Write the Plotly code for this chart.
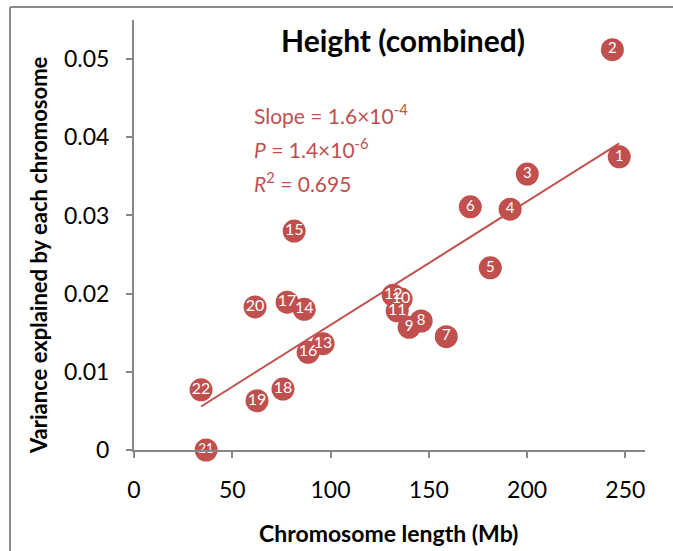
import numpy as np
import plotly.graph_objects as go

# ---- data ----
chromosomes = [str(i) for i in range(1, 23)]
length_mb = [246.9, 243.4, 200.1, 191.4, 181.3, 171.1, 158.9, 146.1, 140.0, 135.9, 133.9,
             131.9, 96.2, 86.6, 81.5, 88.6, 77.9, 75.8, 62.6, 61.6, 36.7, 34.1]
variance = [0.0375, 0.0512, 0.0353, 0.0308, 0.0233, 0.0311, 0.0145, 0.0165, 0.0157, 0.0193,
            0.0178, 0.0198, 0.0136, 0.0180, 0.0280, 0.0125, 0.0189, 0.0078, 0.0063, 0.0183,
            0.0000, 0.0077]
x_ticks = [0, 50, 100, 150, 200, 250]
y_ticks = [0, 0.01, 0.02, 0.03, 0.04, 0.05]
y_tick_text = ["0", "0.01", "0.02", "0.03", "0.04", "0.05"]
stats_lines = ["Slope = 1.6×10<sup>-4</sup>", "<i>P</i> = 1.4×10<sup>-6</sup>", "<i>R</i><sup>2</sup> = 0.695"]

RED = "#C0504D"
AX = "#868686"
FONT = "Lato, 'Open Sans', sans-serif"

# layout geometry (pixels)
W, H = 673, 551
L, R, T, B = 134, 28, 20, 101
pw, ph = W - L - R, H - T - B

xs = np.array(length_mb)
ys = np.array(variance)
slope, intercept = np.polyfit(xs, ys, 1)
fit_x = np.array([xs.min(), xs.max()])
fit_y = slope * fit_x + intercept

label_sizes = [13 if c == "21" else (16 if len(c) > 1 else 15) for c in chromosomes]

fig = go.Figure()
fig.add_trace(go.Scatter(
    x=length_mb, y=variance, mode="markers",
    marker=dict(size=23, color=RED, line=dict(width=0)),
    hoverinfo="skip", showlegend=False, cliponaxis=False,
))
fig.add_trace(go.Scatter(
    x=fit_x, y=fit_y, mode="lines",
    line=dict(color=RED, width=2), hoverinfo="skip", showlegend=False,
))
fig.add_trace(go.Scatter(
    x=length_mb, y=variance, mode="text", text=chromosomes,
    textposition="middle center",
    textfont=dict(color="white", size=label_sizes, family=FONT),
    hoverinfo="skip", showlegend=False, cliponaxis=False,
))

def px2paper_x(px):
    return (px - L) / pw

def px2paper_y(py):
    return (H - B - py) / ph

annotations = []
for txt, py in zip(stats_lines, [114, 148, 182]):
    annotations.append(dict(
        text=txt, xref="paper", yref="paper", x=px2paper_x(252), y=px2paper_y(py),
        xanchor="left", yanchor="middle", showarrow=False,
        font=dict(color=RED, size=21, family=FONT),
    ))
annotations.append(dict(
    text="<b>Height (combined)</b>", xref="paper", yref="paper",
    x=px2paper_x(403), y=px2paper_y(40), xanchor="center", yanchor="middle",
    showarrow=False, font=dict(color="black", size=30, family=FONT),
))
annotations.append(dict(
    text="<b>Chromosome length (Mb)</b>", xref="paper", yref="paper",
    x=px2paper_x(388), y=px2paper_y(533), xanchor="center", yanchor="middle",
    showarrow=False, font=dict(color="black", size=23, family=FONT),
))
annotations.append(dict(
    text="<b>Variance explained by each chromosome</b>", xref="paper", yref="paper",
    x=px2paper_x(38), y=px2paper_y(255), xanchor="center", yanchor="middle",
    textangle=-90, showarrow=False, font=dict(color="black", size=22, family=FONT),
))

border = dict(color="#8c8c8c", width=2)
fig.update_layout(
    width=W, height=H,
    margin=dict(l=L, r=R, t=T, b=B, pad=0, autoexpand=False),
    paper_bgcolor="white", plot_bgcolor="white",
    font=dict(family=FONT, color="black"),
    annotations=annotations,
    shapes=[
        dict(type="line", xref="paper", yref="paper",
             x0=px2paper_x(10), x1=px2paper_x(673), y0=px2paper_y(7), y1=px2paper_y(7),
             line=border, layer="above"),
        dict(type="line", xref="paper", yref="paper",
             x0=px2paper_x(10), x1=px2paper_x(10), y0=px2paper_y(7), y1=px2paper_y(551),
             line=border, layer="above"),
    ],
    xaxis=dict(
        range=[0, 260], tickvals=x_ticks, ticks="outside", ticklen=6, tickwidth=2,
        tickcolor=AX, showline=True, linecolor=AX, linewidth=2, showgrid=False,
        zeroline=False, tickfont=dict(size=23, family=FONT, color="black"),
        ticklabelstandoff=12, automargin=False,
    ),
    yaxis=dict(
        range=[0, 0.055], tickvals=y_ticks, ticktext=y_tick_text, ticks="outside",
        ticklen=6, tickwidth=2, tickcolor=AX, showline=True, linecolor=AX, linewidth=2,
        showgrid=False, zeroline=False, tickfont=dict(size=23, family=FONT, color="black"),
        ticklabelstandoff=12, automargin=False,
    ),
)

fig.write_html(
    "out.html",
    config={"displayModeBar": False},
    post_script="document.body.style.margin='0';document.body.style.overflow='hidden';",
)
